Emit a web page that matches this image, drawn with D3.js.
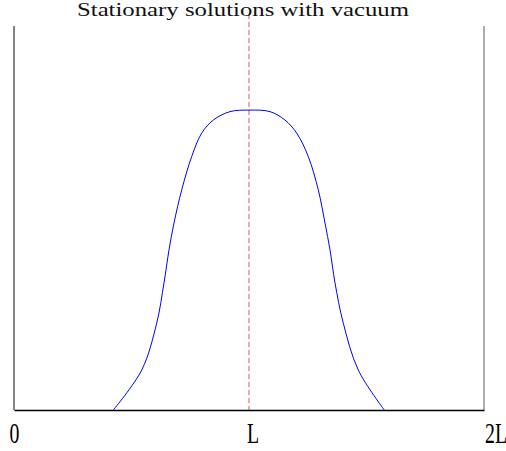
<!DOCTYPE html>
<html>
<head>
<meta charset="utf-8">
<script src="https://cdn.jsdelivr.net/npm/d3@7/dist/d3.min.js"></script>
<style>
  html, body { margin: 0; padding: 0; background: #fff; }
  svg { display: block; }
</style>
</head>
<body>
<svg id="chart" width="506" height="451"></svg>
<script>
// Stationary profile: position in units of L, height (normalised)
const xPos = [0.4226, 0.5434, 0.6072, 0.6383, 0.6596, 0.6809, 0.7136, 0.7562, 0.7987, 0.8481, 0.9191, 1.0,
              1.0894, 1.1532, 1.2030, 1.2523, 1.2949, 1.3234, 1.3447, 1.3660, 1.4013, 1.4651, 1.5757];
const height = [0, 0.104, 0.226, 0.331, 0.417, 0.487, 0.573, 0.660, 0.721, 0.755, 0.777, 0.781,
                0.777, 0.755, 0.721, 0.660, 0.573, 0.487, 0.417, 0.331, 0.226, 0.104, 0];
const tickValues = [0, 1, 2];
const tickLabels = ["0", "L", "2L"];
const symmetryAxis = 1;
const title = "Stationary solutions with vacuum";

const svg = d3.select("#chart");
const x = d3.scaleLinear().domain([0, 2]).range([14, 484]);
const y = d3.scaleLinear().domain([0, 1]).range([410, 26]);

// frame: left and right walls
svg.append("line").attr("x1", x(0)).attr("x2", x(0)).attr("y1", y(1)).attr("y2", y(0))
  .attr("stroke", "#333").attr("stroke-width", 1.2);
svg.append("line").attr("x1", x(2)).attr("x2", x(2)).attr("y1", y(1)).attr("y2", y(0))
  .attr("stroke", "#777").attr("stroke-width", 1.2);

// symmetry line at x = L
svg.append("line").attr("x1", x(symmetryAxis)).attr("x2", x(symmetryAxis))
  .attr("y1", 14).attr("y2", y(0))
  .attr("stroke", "#f07070").attr("stroke-width", 1.2).attr("stroke-dasharray", "5,3");

// profile curve
const line = d3.line()
  .x((d, i) => x(xPos[i]))
  .y(d => y(d))
  .curve(d3.curveCatmullRom.alpha(0.5));
svg.append("path").datum(height).attr("d", line)
  .attr("fill", "none").attr("stroke", "#0000ff").attr("stroke-width", 1);

// bottom axis
const axis = d3.axisBottom(x).tickValues(tickValues)
  .tickFormat((d, i) => tickLabels[i]).tickSize(0).tickPadding(0);
const g = svg.append("g").attr("transform", `translate(0,${y(0)})`).call(axis);
g.select(".domain").attr("stroke", "#000").attr("stroke-width", 1.6);
const labelShift = [0.5, 4, 1];
g.selectAll(".tick").each(function(d, i) {
  const t = d3.select(this);
  const tx = x(d) + labelShift[i];
  t.attr("transform", null);
  t.select("text")
    .attr("font-family", "'Liberation Serif', 'Times New Roman', serif")
    .attr("font-size", 30)
    .attr("fill", "#000")
    .attr("dy", null)
    .attr("y", 0)
    .attr("text-anchor", i === 2 ? "start" : "middle")
    .attr("transform", `translate(${tx},33) scale(0.66,1)`);
});

// title
svg.append("text")
  .attr("x", 77).attr("y", 16)
  .attr("font-family", "'Liberation Serif', 'Times New Roman', serif")
  .attr("font-size", 19)
  .attr("fill", "#111")
  .attr("textLength", 332)
  .attr("lengthAdjust", "spacingAndGlyphs")
  .text(title);
</script>
</body>
</html>
